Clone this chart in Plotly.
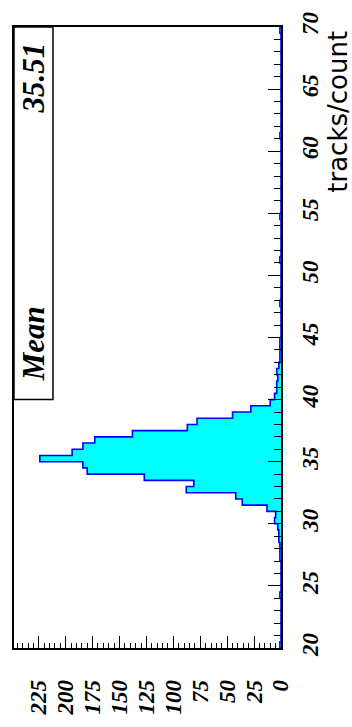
import numpy as np
import plotly.graph_objects as go

# Histogram: 100 bins of width 0.5 spanning tracks/count 20..70
x_min, x_max, n_bins = 20.0, 70.0, 100
counts = [
    1, 0, 0, 0, 0, 0, 0, 0, 1, 0,        # 20.0 - 24.5
    0, 0, 0, 0, 1, 1, 1, 2, 2, 3,        # 25.0 - 29.5
    6, 5, 13, 36, 42, 88, 81, 127, 180, 184,   # 30.0 - 34.5
    224, 194, 184, 173, 138, 87, 78, 45, 28, 10,  # 35.0 - 39.5
    6, 4, 4, 3, 4, 2, 1, 1, 1, 1,        # 40.0 - 44.5
    0, 0, 0, 0, 0, 1, 0, 0, 0, 0,        # 45.0 - 49.5
    0, 0, 1, 0, 0, 0, 0, 0, 0, 1,        # 50.0 - 54.5
    0, 0, 0, 0, 0, 0, 0, 0, 0, 0,        # 55.0 - 59.5
    0, 0, 1, 0, 0, 0, 0, 0, 0, 0,        # 60.0 - 64.5
    0, 0, 0, 0, 0, 0, 0, 0, 0, 1,        # 65.0 - 69.5
]
count_ticks = [0, 25, 50, 75, 100, 125, 150, 175, 200, 225]
value_ticks = [20, 25, 30, 35, 40, 45, 50, 55, 60, 65, 70]
stat_label, stat_value = "Mean", "35.51"
axis_title = "tracks/count"

edges = np.linspace(x_min, x_max, n_bins + 1)

# Step outline of the histogram (counts horizontal, value vertical)
step_y, step_x = [edges[0]], [0.0]
for i, c in enumerate(counts):
    step_y += [edges[i], edges[i + 1]]
    step_x += [c, c]
step_y.append(edges[-1])
step_x.append(0.0)

tick_font = dict(family="Liberation Serif", size=23, color="black",
                 weight="bold", style="italic")

fig = go.Figure()
fig.add_trace(go.Scatter(
    x=step_x, y=step_y, mode="lines",
    fill="tozerox", fillcolor="#00ffff",
    line=dict(color="#0000ff", width=1.6),
    hoverinfo="skip", showlegend=False,
))

fig.update_layout(
    width=352, height=727,
    margin=dict(l=14, r=71, t=15, b=74),
    paper_bgcolor="white", plot_bgcolor="white",
    showlegend=False,
)

fig.update_xaxes(
    range=[248, 0], showgrid=False, zeroline=False,
    showline=True, linecolor="black", linewidth=1.5, mirror=True,
    tickmode="array", tickvals=count_ticks, ticktext=[str(v) for v in count_ticks],
    ticks="inside", ticklen=12, tickwidth=1, tickcolor="black",
    minor=dict(dtick=5, ticks="inside", ticklen=5, tickcolor="black", tickwidth=1),
    tickangle=-90, tickfont=tick_font, ticklabelstandoff=21,
    ticklabeloverflow="allow",
)
fig.update_yaxes(
    range=[x_min, x_max], side="right", showgrid=False, zeroline=False,
    showline=True, linecolor="black", linewidth=1.5, mirror=True,
    tickmode="array", tickvals=value_ticks, ticktext=[str(v) for v in value_ticks],
    ticks="inside", ticklen=13, tickwidth=1, tickcolor="black",
    minor=dict(dtick=1, ticks="inside", ticklen=7, tickcolor="black", tickwidth=1),
    tickangle=-90, tickfont=tick_font, ticklabelstandoff=8,
    ticklabeloverflow="allow",
)

# Statistics box
fig.add_shape(type="rect", xref="paper", yref="paper",
              x0=0, x1=0.146, y0=0.40, y1=1.0,
              line=dict(color="black", width=1.5), fillcolor="white", layer="above")
stat_font = dict(family="Liberation Serif", size=31, color="black",
                 weight="bold", style="italic")
fig.add_annotation(xref="paper", yref="paper", x=0.073, y=0.49,
                   xanchor="center", yanchor="middle",
                   text=stat_label, textangle=-90, showarrow=False, font=stat_font)
fig.add_annotation(xref="paper", yref="paper", x=0.073, y=0.918,
                   xanchor="center", yanchor="middle",
                   text=stat_value, textangle=-90, showarrow=False, font=stat_font)

# Axis title, aligned to the upper end of the value axis
fig.add_annotation(xref="paper", yref="paper", x=1.213, y=0.997,
                   xanchor="center", yanchor="top",
                   text=axis_title, textangle=-90, showarrow=False,
                   font=dict(family="DejaVu Sans", size=26, color="black"))

fig.write_html("out.html")
